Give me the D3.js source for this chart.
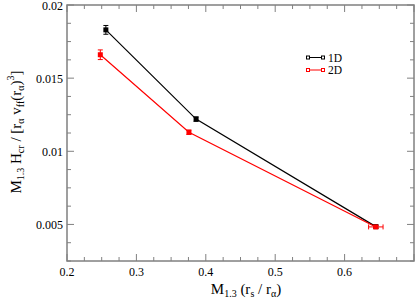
<!DOCTYPE html>
<html>
<head>
<meta charset="utf-8">
<script src="https://cdn.jsdelivr.net/npm/d3@7"></script>
<style>
  body { margin: 0; background: #fff; }
  text { font-family: "Liberation Serif", "DejaVu Serif", serif; fill: #000; }
</style>
</head>
<body>
<svg id="chart" width="415" height="307"></svg>
<script>
// data
var series = ["1D", "2D"];
var colors = ["#000000", "#ff0000"];
var x1D = [0.256, 0.386, 0.645];
var y1D = [0.0183, 0.0122, 0.00485];
var ey1D = [0.0003, 0.00015, 0.0001];
var ex1D = [0, 0, 0];
var x2D = [0.248, 0.3757, 0.645];
var y2D = [0.0166, 0.0113, 0.00483];
var ey2D = [0.00033, 0.00015, 0.0001];
var ex2D = [0, 0, 0.0104];
var xTicks = [0.2, 0.3, 0.4, 0.5, 0.6];
var yTicks = [0.005, 0.01, 0.015, 0.02];

var margin = { left: 67, right: 1, top: 5, bottom: 46 };
var width = 415, height = 307;
var svg = d3.select("#chart");
var axisColor = "#808080";

var x = d3.scaleLinear().domain([0.2, 0.7]).range([margin.left, width - margin.right]);
var y = d3.scaleLinear().domain([0.0025, 0.02]).range([height - margin.bottom, margin.top]);

var x0 = x.range()[0], x1 = x.range()[1], y0 = y.range()[0], y1 = y.range()[1];

// minor and major ticks, inward, on all four sides
var xMinor = d3.range(0, 21).map(function (i) { return 0.2 + i * 0.025; });
var yMinor = d3.range(0, 15).map(function (i) { return 0.0025 + i * 0.00125; });
var g = svg.append("g").attr("stroke", axisColor).attr("stroke-width", 1);
xMinor.forEach(function (v) {
  var major = Math.abs(v * 10 - Math.round(v * 10)) < 1e-6;
  var len = major ? 7 : 4;
  g.append("line").attr("x1", x(v)).attr("x2", x(v)).attr("y1", y0).attr("y2", y0 - len);
  g.append("line").attr("x1", x(v)).attr("x2", x(v)).attr("y1", y1).attr("y2", y1 + len);
});
yMinor.forEach(function (v) {
  var major = Math.abs(v * 200 - Math.round(v * 200)) < 1e-6;
  var len = major ? 7 : 4;
  g.append("line").attr("y1", y(v)).attr("y2", y(v)).attr("x1", x0).attr("x2", x0 + len);
  g.append("line").attr("y1", y(v)).attr("y2", y(v)).attr("x1", x1).attr("x2", x1 - len);
});
svg.append("rect")
  .attr("x", x0).attr("y", y1)
  .attr("width", x1 - x0).attr("height", y0 - y1)
  .attr("fill", "none").attr("stroke", axisColor).attr("stroke-width", 1.5);

// tick labels
svg.selectAll(".xl").data(xTicks).enter().append("text")
  .attr("x", function (d) { return x(d); })
  .attr("y", y0 + 15)
  .attr("text-anchor", "middle")
  .attr("font-size", 12)
  .text(function (d) { return d3.format(".1f")(d); });
svg.selectAll(".yl").data(yTicks).enter().append("text")
  .attr("x", x0 - 4)
  .attr("y", function (d) { return y(d) + 4.5; })
  .attr("text-anchor", "end")
  .attr("font-size", 12)
  .text(function (d) { return d3.format("")(d); });

// series
var data = [
  { name: series[0], color: colors[0], pts: x1D.map(function (v, i) { return [v, y1D[i], ex1D[i], ey1D[i]]; }) },
  { name: series[1], color: colors[1], pts: x2D.map(function (v, i) { return [v, y2D[i], ex2D[i], ey2D[i]]; }) }
];
var line = d3.line().x(function (d) { return x(d[0]); }).y(function (d) { return y(d[1]); });
data.forEach(function (s) {
  var sg = svg.append("g");
  sg.append("path").attr("d", line(s.pts)).attr("fill", "none")
    .attr("stroke", s.color).attr("stroke-width", 1.2);
  s.pts.forEach(function (p) {
    var cx = x(p[0]), cy = y(p[1]);
    if (p[3] > 0) {
      var ya = y(p[1] + p[3]), yb = y(p[1] - p[3]);
      sg.append("line").attr("x1", cx).attr("x2", cx).attr("y1", ya).attr("y2", yb).attr("stroke", s.color);
      sg.append("line").attr("x1", cx - 2.5).attr("x2", cx + 2.5).attr("y1", ya).attr("y2", ya).attr("stroke", s.color);
      sg.append("line").attr("x1", cx - 2.5).attr("x2", cx + 2.5).attr("y1", yb).attr("y2", yb).attr("stroke", s.color);
    }
    if (p[2] > 0) {
      var xa = x(p[0] - p[2]), xb = x(p[0] + p[2]);
      sg.append("line").attr("x1", xa).attr("x2", xb).attr("y1", cy).attr("y2", cy).attr("stroke", s.color);
      sg.append("line").attr("x1", xa).attr("x2", xa).attr("y1", cy - 2.5).attr("y2", cy + 2.5).attr("stroke", s.color);
      sg.append("line").attr("x1", xb).attr("x2", xb).attr("y1", cy - 2.5).attr("y2", cy + 2.5).attr("stroke", s.color);
    }
    sg.append("rect").attr("x", cx - 2.5).attr("y", cy - 2.5).attr("width", 5).attr("height", 5)
      .attr("fill", s.color);
  });
});

// legend
data.forEach(function (s, i) {
  var ly = 57.5 + i * 12.5;
  var lg = svg.append("g");
  lg.append("line").attr("x1", 308).attr("x2", 323).attr("y1", ly).attr("y2", ly)
    .attr("stroke", s.color).attr("stroke-width", 1);
  [308, 323].forEach(function (lx) {
    lg.append("rect").attr("x", lx - 1.5).attr("y", ly - 1.5).attr("width", 3).attr("height", 3)
      .attr("fill", "#fff").attr("stroke", s.color).attr("stroke-width", 1);
  });
  lg.append("text").attr("x", 328).attr("y", ly + 4).attr("font-size", 11.5).text(s.name);
});

// axis titles
var xt = svg.append("text").attr("x", 246).attr("y", 294).attr("text-anchor", "middle").attr("font-size", 15);
xt.append("tspan").text("M");
xt.append("tspan").attr("font-size", 10).attr("dy", 3).text("1.3");
xt.append("tspan").attr("dy", -3).text(" (r");
xt.append("tspan").attr("font-size", 10).attr("dy", 3).text("s");
xt.append("tspan").attr("dy", -3).text(" / r");
xt.append("tspan").attr("font-size", 10).attr("dy", 3).text("α");
xt.append("tspan").attr("dy", -3).text(")");

var yt = svg.append("text").attr("transform", "translate(21," + 132 + ") rotate(-90)")
  .attr("text-anchor", "middle").attr("font-size", 15);
yt.append("tspan").text("M");
yt.append("tspan").attr("font-size", 10).attr("dy", 3).text("1.3");
yt.append("tspan").attr("dy", -3).text(" H");
yt.append("tspan").attr("font-size", 10).attr("dy", 3).text("cr");
yt.append("tspan").attr("dy", -3).text(" / [r");
yt.append("tspan").attr("font-size", 10).attr("dy", 3).text("α");
yt.append("tspan").attr("dy", -3).text(" v");
yt.append("tspan").attr("font-size", 10).attr("dy", 3).text("ff");
yt.append("tspan").attr("dy", -3).text("(r");
yt.append("tspan").attr("font-size", 10).attr("dy", 3).text("α");
yt.append("tspan").attr("dy", -3).text(")");
yt.append("tspan").attr("font-size", 10).attr("dy", -7).text("3");
yt.append("tspan").attr("dy", 7).text("]");
</script>
</body>
</html>
